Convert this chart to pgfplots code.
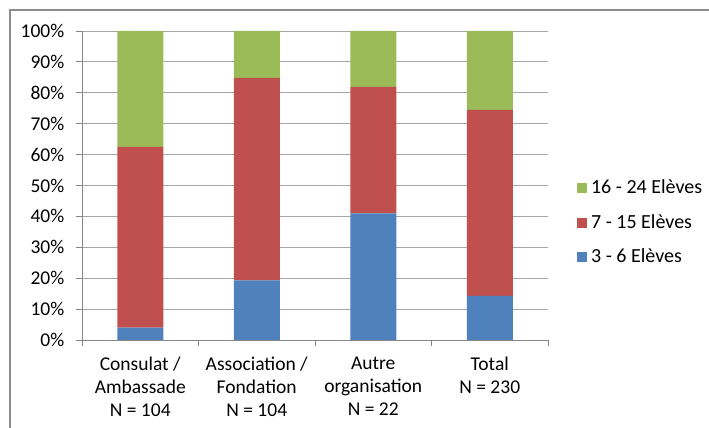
\documentclass[border=0pt]{standalone}
\usepackage{pgfplots}
\pgfplotsset{compat=1.18}
\usepackage{fontspec}
\setmainfont{Carlito}
\definecolor{cblue}{HTML}{4F81BD}
\definecolor{cred}{HTML}{C0504D}
\definecolor{cgreen}{HTML}{9BBB59}
\definecolor{axgray}{HTML}{868686}
\definecolor{gridgray}{HTML}{A6A6A6}
\definecolor{framegray}{HTML}{8C8C8C}
\begin{document}
\fontsize{19.5pt}{23pt}\selectfont
\begin{tikzpicture}
\path[use as bounding box] (0,0) rectangle (709pt,428pt);
\draw[framegray, line width=1.3pt] (10pt,0) -- (10pt,418pt) -- (709pt,418pt);
\begin{axis}[
  at={(82pt,88pt)}, anchor=south west,
  scale only axis, width=466pt, height=309pt,
  ybar stacked, bar width=46pt,
  xmin=-0.5, xmax=3.5, ymin=0, ymax=100,
  axis lines*=left,
  axis line style={axgray, line width=0.8pt},
  every outer x axis line/.append style={-}, every outer y axis line/.append style={-},
  ytick={0,10,...,100},
  yticklabel={\pgfmathprintnumber{\tick}\%},
  ymajorgrids, grid style={gridgray, line width=0.8pt},
  tick align=outside, major tick length=6pt,
  tick style={axgray, line width=0.8pt},
  xtick={-0.5,0.5,1.5,2.5,3.5}, xticklabels={},
  extra x ticks={0,1,2,3},
  extra x tick labels={{Consulat /\\Ambassade\\N = 104},{Association /\\Fondation\\N = 104},{Autre\\organisation\\N = 22},{Total\\N = 230}},
  extra x tick style={major tick length=0pt, grid=none},
  xticklabel style={align=center, font=\fontsize{19.5pt}{23pt}\selectfont, yshift=-10pt},
  yticklabel style={font=\fontsize{19.5pt}{23pt}\selectfont, xshift=-5pt},
  /pgf/number format/assume math mode=true,
  legend style={draw=none, at={(rel axis cs:1.062,0.38)}, anchor=west,
    font=\fontsize{20pt}{24pt}\selectfont, row sep=14pt, fill=none,
    legend cell align=left, inner xsep=0pt,
    nodes={inner xsep=4pt}},
  legend image code/.code={\fill[#1] (0pt,-5pt) rectangle (10pt,5pt);},
  reverse legend,
]
\addplot[fill=cblue, draw=none] coordinates {(0,4.0) (1,19.3) (2,41.0) (3,14.3)};
\addplot[fill=cred, draw=none] coordinates {(0,58.5) (1,65.5) (2,40.9) (3,60.2)};
\addplot[fill=cgreen, draw=none] coordinates {(0,37.5) (1,15.2) (2,18.1) (3,25.5)};
\legend{3 - 6 Elèves, 7 - 15 Elèves, 16 - 24 Elèves}
\end{axis}
\end{tikzpicture}
\end{document}
